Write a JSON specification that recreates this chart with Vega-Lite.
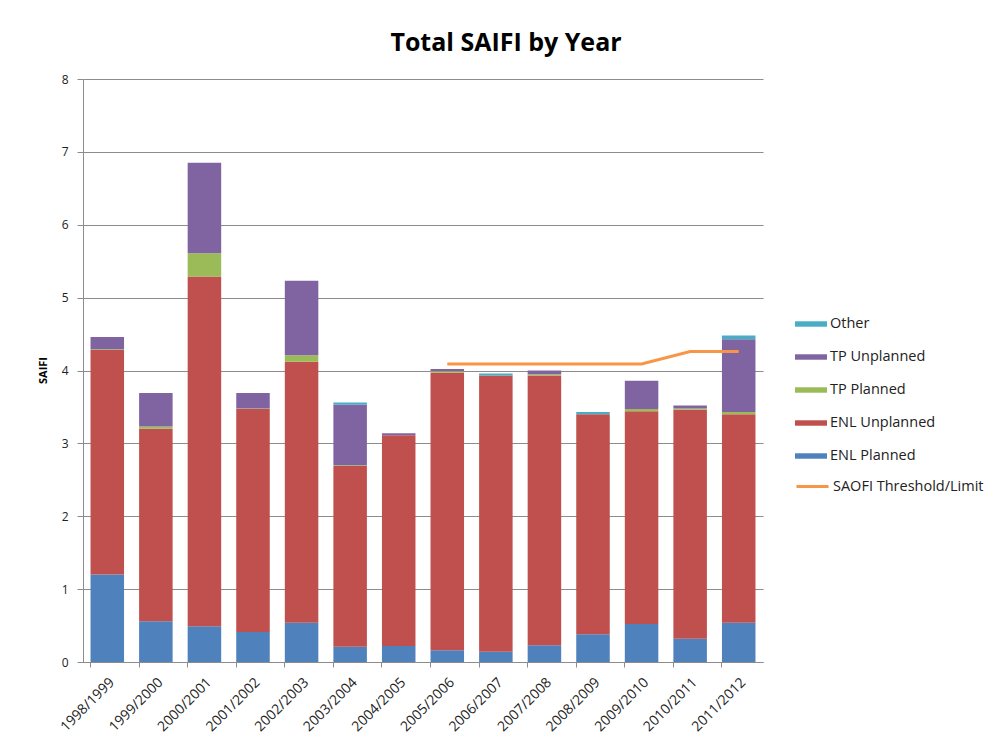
{
  "$schema": "https://vega.github.io/schema/vega-lite/v6.json",
  "width": 680,
  "height": 583,
  "autosize": {"type": "none"},
  "padding": {"left": 83, "top": 79, "right": 235, "bottom": 82},
  "background": "white",
  "config": {
    "font": "Open Sans",
    "view": {"stroke": null},
    "axis": {
      "gridColor": "#8c8c8c",
      "domainColor": "#8c8c8c",
      "tickColor": "#8c8c8c",
      "labelColor": "#222222",
      "labelFont": "Open Sans",
      "titleFont": "Open Sans"
    },
    "legend": {"labelFont": "Open Sans", "labelColor": "#222222"}
  },
  "title": {
    "text": "Total SAIFI by Year",
    "font": "Open Sans",
    "fontSize": 25,
    "fontWeight": "bold",
    "color": "#000000",
    "anchor": "middle",
    "dx": 83,
    "offset": -3,
    "baseline": "alphabetic"
  },
  "datasets": {
    "seriesOrder": [
      {"series": "ENL Planned", "rank": 1},
      {"series": "ENL Unplanned", "rank": 2},
      {"series": "TP Planned", "rank": 3},
      {"series": "TP Unplanned", "rank": 4},
      {"series": "Other", "rank": 5}
    ],
    "bars": [
      {"year": "1998/1999", "series": "ENL Planned", "value": 1.20},
      {"year": "1998/1999", "series": "ENL Unplanned", "value": 3.08},
      {"year": "1998/1999", "series": "TP Planned", "value": 0.01},
      {"year": "1998/1999", "series": "TP Unplanned", "value": 0.17},
      {"year": "1999/2000", "series": "ENL Planned", "value": 0.56},
      {"year": "1999/2000", "series": "ENL Unplanned", "value": 2.64},
      {"year": "1999/2000", "series": "TP Planned", "value": 0.03},
      {"year": "1999/2000", "series": "TP Unplanned", "value": 0.46},
      {"year": "2000/2001", "series": "ENL Planned", "value": 0.49},
      {"year": "2000/2001", "series": "ENL Unplanned", "value": 4.80},
      {"year": "2000/2001", "series": "TP Planned", "value": 0.32},
      {"year": "2000/2001", "series": "TP Unplanned", "value": 1.24},
      {"year": "2001/2002", "series": "ENL Planned", "value": 0.41},
      {"year": "2001/2002", "series": "ENL Unplanned", "value": 3.06},
      {"year": "2001/2002", "series": "TP Planned", "value": 0.01},
      {"year": "2001/2002", "series": "TP Unplanned", "value": 0.21},
      {"year": "2002/2003", "series": "ENL Planned", "value": 0.54},
      {"year": "2002/2003", "series": "ENL Unplanned", "value": 3.58},
      {"year": "2002/2003", "series": "TP Planned", "value": 0.09},
      {"year": "2002/2003", "series": "TP Unplanned", "value": 1.02},
      {"year": "2003/2004", "series": "ENL Planned", "value": 0.21},
      {"year": "2003/2004", "series": "ENL Unplanned", "value": 2.48},
      {"year": "2003/2004", "series": "TP Planned", "value": 0.01},
      {"year": "2003/2004", "series": "TP Unplanned", "value": 0.83},
      {"year": "2003/2004", "series": "Other", "value": 0.03},
      {"year": "2004/2005", "series": "ENL Planned", "value": 0.22},
      {"year": "2004/2005", "series": "ENL Unplanned", "value": 2.89},
      {"year": "2004/2005", "series": "TP Unplanned", "value": 0.03},
      {"year": "2005/2006", "series": "ENL Planned", "value": 0.16},
      {"year": "2005/2006", "series": "ENL Unplanned", "value": 3.81},
      {"year": "2005/2006", "series": "TP Planned", "value": 0.02},
      {"year": "2005/2006", "series": "TP Unplanned", "value": 0.03},
      {"year": "2006/2007", "series": "ENL Planned", "value": 0.14},
      {"year": "2006/2007", "series": "ENL Unplanned", "value": 3.79},
      {"year": "2006/2007", "series": "Other", "value": 0.03},
      {"year": "2007/2008", "series": "ENL Planned", "value": 0.23},
      {"year": "2007/2008", "series": "ENL Unplanned", "value": 3.70},
      {"year": "2007/2008", "series": "TP Planned", "value": 0.02},
      {"year": "2007/2008", "series": "TP Unplanned", "value": 0.05},
      {"year": "2008/2009", "series": "ENL Planned", "value": 0.38},
      {"year": "2008/2009", "series": "ENL Unplanned", "value": 3.02},
      {"year": "2008/2009", "series": "Other", "value": 0.03},
      {"year": "2009/2010", "series": "ENL Planned", "value": 0.52},
      {"year": "2009/2010", "series": "ENL Unplanned", "value": 2.92},
      {"year": "2009/2010", "series": "TP Planned", "value": 0.03},
      {"year": "2009/2010", "series": "TP Unplanned", "value": 0.39},
      {"year": "2010/2011", "series": "ENL Planned", "value": 0.32},
      {"year": "2010/2011", "series": "ENL Unplanned", "value": 3.14},
      {"year": "2010/2011", "series": "TP Planned", "value": 0.02},
      {"year": "2010/2011", "series": "TP Unplanned", "value": 0.04},
      {"year": "2011/2012", "series": "ENL Planned", "value": 0.54},
      {"year": "2011/2012", "series": "ENL Unplanned", "value": 2.86},
      {"year": "2011/2012", "series": "TP Planned", "value": 0.03},
      {"year": "2011/2012", "series": "TP Unplanned", "value": 1.00},
      {"year": "2011/2012", "series": "Other", "value": 0.05}
    ],
    "limit": [
      {"year": "2005/2006", "series": "SAOFI Threshold/Limit", "limit": 4.09},
      {"year": "2006/2007", "series": "SAOFI Threshold/Limit", "limit": 4.09},
      {"year": "2007/2008", "series": "SAOFI Threshold/Limit", "limit": 4.09},
      {"year": "2008/2009", "series": "SAOFI Threshold/Limit", "limit": 4.09},
      {"year": "2009/2010", "series": "SAOFI Threshold/Limit", "limit": 4.09},
      {"year": "2010/2011", "series": "SAOFI Threshold/Limit", "limit": 4.26},
      {"year": "2011/2012", "series": "SAOFI Threshold/Limit", "limit": 4.26}
    ]
  },
  "layer": [
    {
      "data": {"name": "bars"},
      "transform": [
        {
          "lookup": "series",
          "from": {"data": {"name": "seriesOrder"}, "key": "series", "fields": ["rank"]}
        }
      ],
      "mark": {"type": "bar"},
      "encoding": {
        "x": {
          "field": "year",
          "type": "nominal",
          "scale": {"paddingInner": 0.31, "paddingOuter": 0.155},
          "axis": {
            "orient": "bottom",
            "title": null,
            "labelAngle": -45,
            "labelFontSize": 14,
            "labelPadding": 13,
            "ticks": false,
            "domain": false,
            "grid": false
          }
        },
        "y": {
          "field": "value",
          "type": "quantitative",
          "scale": {"domain": [0, 8]},
          "axis": {
            "title": "SAIFI",
            "titleFontSize": 11,
            "titleFontWeight": "bold",
            "titleColor": "#000000",
            "titleAngle": -90,
            "titleX": -40,
            "titleY": 291,
            "titleAlign": "center",
            "titleBaseline": "middle",
            "values": [0, 1, 2, 3, 4, 5, 6, 7, 8],
            "format": "d",
            "labelFontSize": 12,
            "labelPadding": 9,
            "tickSize": 6,
            "grid": true,
            "domain": true
          }
        },
        "order": {"field": "rank", "type": "quantitative", "sort": "ascending"},
        "fill": {
          "field": "series",
          "type": "nominal",
          "scale": {
            "domain": ["Other", "TP Unplanned", "TP Planned", "ENL Unplanned", "ENL Planned"],
            "range": ["#4BACC6", "#8064A2", "#9BBB59", "#C0504D", "#4F81BD"]
          },
          "legend": {
            "title": null,
            "orient": "none",
            "legendX": 712,
            "legendY": 229,
            "symbolType": "M-1,-0.17H1V0.17H-1Z",
            "symbolSize": 1024,
            "symbolStrokeWidth": 0,
            "labelFontSize": 14.5,
            "labelOffset": 3,
            "rowPadding": 10
          }
        }
      }
    },
    {
      "data": {"name": "limit"},
      "mark": {"type": "line", "strokeWidth": 3},
      "encoding": {
        "x": {
          "field": "year",
          "type": "nominal",
          "axis": {
            "orient": "bottom",
            "title": null,
            "bandPosition": 0,
            "labels": false,
            "ticks": true,
            "tickSize": 5,
            "domain": true,
            "grid": false
          }
        },
        "y": {
          "field": "limit",
          "type": "quantitative",
          "axis": {"title": "SAIFI"}
        },
        "stroke": {
          "field": "series",
          "type": "nominal",
          "scale": {"range": ["#F79646"]},
          "legend": {
            "title": null,
            "orient": "none",
            "legendX": 712,
            "legendY": 390,
            "symbolType": "stroke",
            "symbolSize": 1024,
            "symbolStrokeWidth": 3,
            "labelFontSize": 14.5,
            "labelOffset": 3
          }
        }
      }
    }
  ],
  "resolve": {"axis": {"x": "independent"}}
}
